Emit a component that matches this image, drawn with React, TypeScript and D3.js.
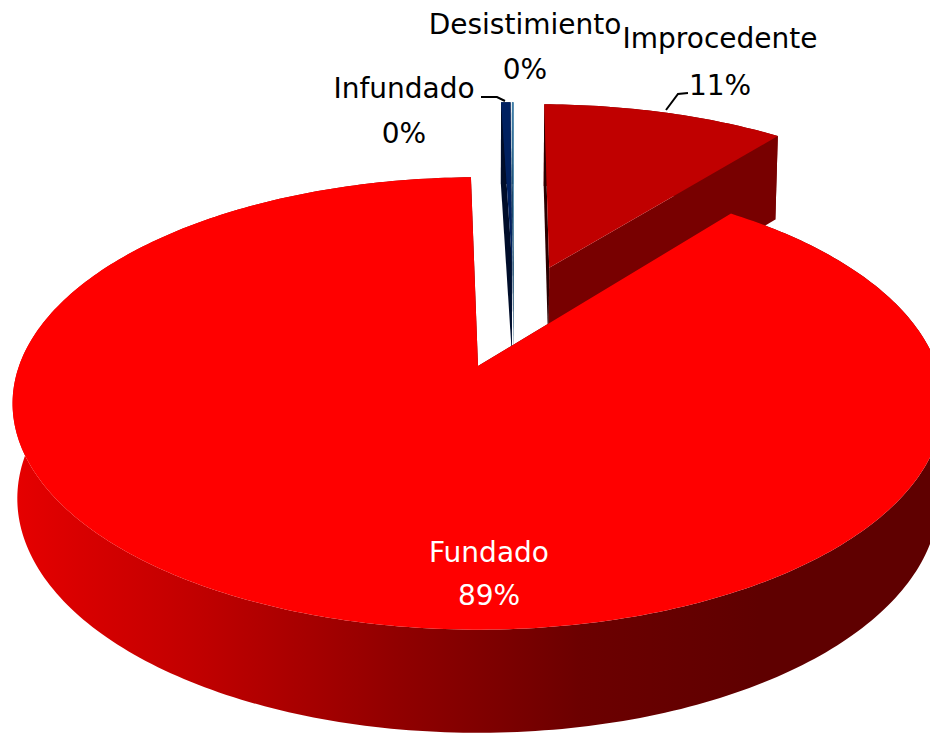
import React from 'react'
import * as d3 from 'd3'

const categories = ['Fundado', 'Infundado', 'Desistimiento', 'Improcedente']
const values = [89.02, 0.41, 0.07, 10.5]
const percentLabels = ['89%', '0%', '0%', '11%']

const topColors = ['#ff0000', '#002060', '#3f7fa8', '#c00000']
const rimColors = ['url(#rimGradient)', '#00153f', '#2a5f85', '#780000']
const startWallColors = ['#600000', '#000d2a', '#1d4a6b', '#2b0000']
const endWallColors = ['#600000', '#00153f', '#2a5f85', '#780000']

// where each label sits: [x, name baseline, percent baseline]
const labelPos = [
  [489, 562, 605],
  [404, 98, 143],
  [525, 34, 79],
  [720, 48, 95],
]
const labelFill = ['#ffffff', '#000000', '#000000', '#000000']

const leaders = [
  { cat: 'Infundado', pts: [[481, 97], [497, 97], [505, 101]] },
  { cat: 'Improcedente', pts: [[666, 110], [678, 94], [688, 93]] },
]

// perspective fit, origin on the apex of the big slice
const width = 930
const height = 734
const originX = 478
const originY = 366
const scaleX = 459
const scaleY = 220
const persp = 0.1656
const depth = 96.7
const depthPersp = 0.029
const depthPerspX = 0.01
const explode = 0.255

function project(x: number, y: number, bottom: boolean): [number, number] {
  const den = 1 - persp * y
  return [
    originX + (scaleX * x) / (den + (bottom ? depthPerspX : 0)),
    originY + (scaleY * y + (bottom ? depth : 0)) / (den + (bottom ? depthPersp : 0)),
  ]
}

const start = (38.5 * Math.PI) / 180
const arcs = d3.pie<number>().sort(null).startAngle(start).endAngle(start + 2 * Math.PI)(values)

const bisector = (a: d3.PieArcDatum<number>) => (a.startAngle + a.endAngle) / 2
const centerX = -explode * Math.sin(bisector(arcs[0]))
const centerY = explode * Math.cos(bisector(arcs[0]))

const path = d3.line()

const slices = arcs
  .map((a, i) => {
    const cx = centerX + explode * Math.sin(bisector(a))
    const cy = centerY - explode * Math.cos(bisector(a))
    const n = Math.max(2, Math.ceil((a.endAngle - a.startAngle) * 60))
    const angles = d3.range(n + 1).map(k => a.startAngle + ((a.endAngle - a.startAngle) * k) / n)
    const rim = (bottom: boolean) =>
      angles.map(t => project(cx + Math.sin(t), cy - Math.cos(t), bottom))
    const topRim = rim(false)
    const botRim = rim(true)
    const apexTop = project(cx, cy, false)
    const apexBot = project(cx, cy, true)
    return {
      i,
      cy,
      top: path([apexTop, ...topRim])! + 'Z',
      rimWall: path([...topRim, ...botRim.slice().reverse()])! + 'Z',
      startWall: path([apexTop, topRim[0], botRim[0], apexBot])! + 'Z',
      endWall: path([apexTop, topRim[n], botRim[n], apexBot])! + 'Z',
    }
  })
  .sort((a, b) => d3.ascending(a.cy, b.cy))

export default function App() {
  const fontFamily = '"DejaVu Sans", sans-serif'
  return (
    <svg
      width={width}
      height={height}
      viewBox={`0 0 ${width} ${height}`}
      style={{ position: 'absolute', left: 0, top: 0, display: 'block' }}
    >
      <defs>
        <linearGradient id="rimGradient" gradientUnits="userSpaceOnUse" x1={0} y1={0} x2={width} y2={0}>
          <stop offset="0.014" stopColor="#e60000" />
          <stop offset="0.215" stopColor="#c00000" />
          <stop offset="0.43" stopColor="#900000" />
          <stop offset="0.624" stopColor="#6c0000" />
          <stop offset="0.817" stopColor="#5f0000" />
        </linearGradient>
      </defs>
      {slices.map(s => (
        <g key={categories[s.i]}>
          <path d={s.rimWall} fill={rimColors[s.i]} />
          <path d={s.startWall} fill={startWallColors[s.i]} />
          <path d={s.endWall} fill={endWallColors[s.i]} />
          <path d={s.top} fill={topColors[s.i]} />
        </g>
      ))}
      {leaders.map(l => (
        <path
          key={l.cat}
          d={path(l.pts as [number, number][])!}
          fill="none"
          stroke="#000"
          strokeWidth={2}
        />
      ))}
      {categories.map((c, i) => (
        <text key={c} textAnchor="middle" fontFamily={fontFamily} fontSize={28} fill={labelFill[i]}>
          <tspan x={labelPos[i][0]} y={labelPos[i][1]}>{c}</tspan>
          <tspan x={labelPos[i][0]} y={labelPos[i][2]}>{percentLabels[i]}</tspan>
        </text>
      ))}
    </svg>
  )
}
